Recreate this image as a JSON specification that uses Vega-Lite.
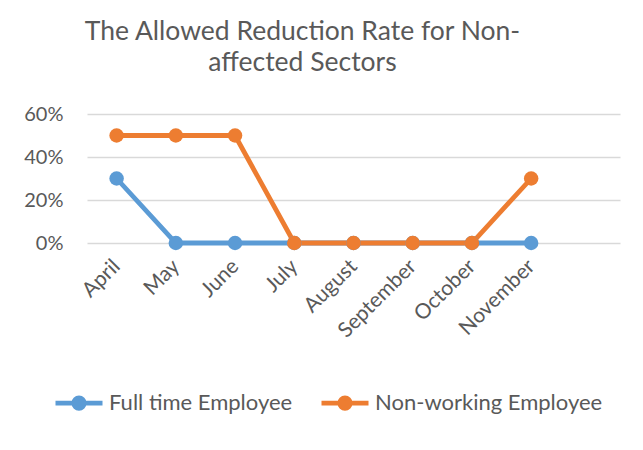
{
  "$schema": "https://vega.github.io/schema/vega-lite/v6.json",
  "width": 533,
  "height": 129,
  "autosize": "none",
  "padding": {"left": 87, "top": 114, "right": 23, "bottom": 207},
  "background": "white",
  "title": {
    "text": ["The Allowed Reduction Rate for Non-", "affected Sectors"],
    "font": "Lato",
    "fontSize": 26.5,
    "fontWeight": "normal",
    "color": "#595959",
    "anchor": "middle",
    "dx": -51,
    "offset": 28,
    "lineHeight": 31
  },
  "data": {
    "values": [
      {"month": "April", "series": "Full time Employee", "rate": 0.3},
      {"month": "May", "series": "Full time Employee", "rate": 0},
      {"month": "June", "series": "Full time Employee", "rate": 0},
      {"month": "July", "series": "Full time Employee", "rate": 0},
      {"month": "August", "series": "Full time Employee", "rate": 0},
      {"month": "September", "series": "Full time Employee", "rate": 0},
      {"month": "October", "series": "Full time Employee", "rate": 0},
      {"month": "November", "series": "Full time Employee", "rate": 0},
      {"month": "April", "series": "Non-working Employee", "rate": 0.5},
      {"month": "May", "series": "Non-working Employee", "rate": 0.5},
      {"month": "June", "series": "Non-working Employee", "rate": 0.5},
      {"month": "July", "series": "Non-working Employee", "rate": 0},
      {"month": "August", "series": "Non-working Employee", "rate": 0},
      {"month": "September", "series": "Non-working Employee", "rate": 0},
      {"month": "October", "series": "Non-working Employee", "rate": 0},
      {"month": "November", "series": "Non-working Employee", "rate": 0.3}
    ]
  },
  "mark": {"type": "line", "strokeWidth": 4.8, "point": {"size": 210, "filled": true, "opacity": 1}},
  "encoding": {
    "x": {
      "field": "month",
      "type": "ordinal",
      "scale": {
        "type": "point",
        "padding": 0.5,
        "domain": ["April", "May", "June", "July", "August", "September", "October", "November", ""]
      },
      "axis": {
        "title": null,
        "labelAngle": -45,
        "labelAlign": "right",
        "labelBaseline": "middle",
        "labelPadding": 20,
        "ticks": false,
        "domain": false,
        "grid": false,
        "labelFont": "Lato",
        "labelFontSize": 21,
        "labelColor": "#595959"
      }
    },
    "y": {
      "field": "rate",
      "type": "quantitative",
      "scale": {"domain": [0, 0.6], "nice": false},
      "axis": {
        "title": null,
        "values": [0, 0.2, 0.4, 0.6],
        "format": ".0%",
        "ticks": false,
        "domain": false,
        "labelPadding": 24,
        "labelFont": "Lato",
        "labelFontSize": 20,
        "labelColor": "#595959",
        "gridColor": "#D9D9D9",
        "gridWidth": 1.5
      }
    },
    "color": {
      "field": "series",
      "type": "nominal",
      "scale": {"domain": ["Full time Employee", "Non-working Employee"], "range": ["#5B9BD5", "#ED7D31"]},
      "legend": {
        "title": null,
        "orient": "none",
        "legendX": -34,
        "legendY": 263,
        "direction": "horizontal",
        "labelFont": "Lato",
        "labelFontSize": 22,
        "labelColor": "#595959",
        "labelLimit": 0,
        "symbolType": "M-1,0H1M-0.22,0A0.22,0.22 0 1,1 0.22,0A0.22,0.22 0 1,1 -0.22,0Z",
        "symbolSize": 2209,
        "symbolStrokeWidth": 4.8,
        "labelOffset": 4,
        "columnPadding": 18,
        "encode": {
          "symbols": {"update": {"fill": {"scale": "color", "field": "value"}, "stroke": {"scale": "color", "field": "value"}, "opacity": {"value": 1}}}
        }
      }
    }
  },
  "config": {"view": {"stroke": null}}
}
